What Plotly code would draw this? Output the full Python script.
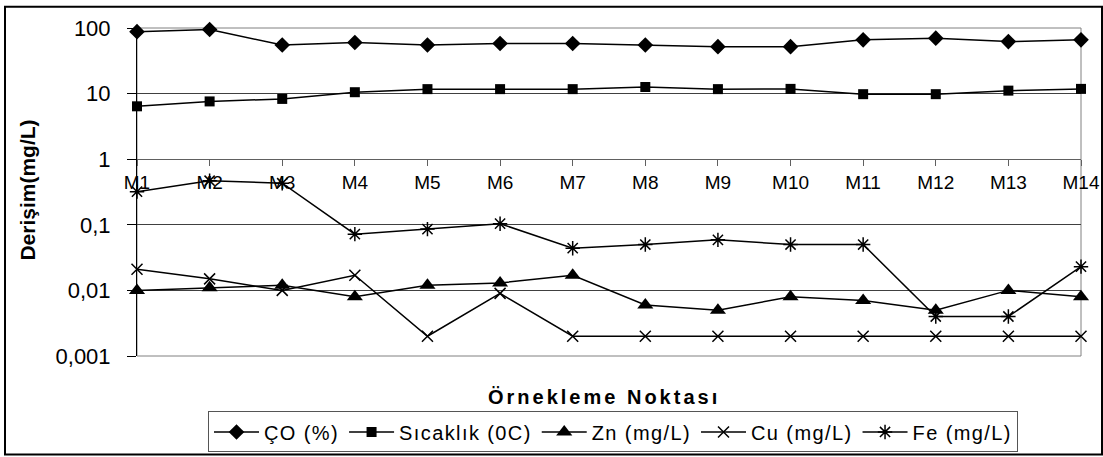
import plotly.graph_objects as go

# Sampling points and measured values
categories = ["M1", "M2", "M3", "M4", "M5", "M6", "M7",
              "M8", "M9", "M10", "M11", "M12", "M13", "M14"]
co_pct = [88, 95, 55, 60, 55, 58, 58, 55, 52, 52, 66, 70, 62, 66]
sicaklik = [6.4, 7.6, 8.3, 10.5, 11.7, 11.7, 11.7, 12.6, 11.7, 11.8, 9.8, 9.8, 11.1, 11.8]
zn = [0.010, 0.011, 0.012, 0.008, 0.012, 0.013, 0.017, 0.006, 0.005, 0.008, 0.007, 0.005, 0.010, 0.008]
cu = [0.021, 0.015, 0.010, 0.017, 0.002, 0.009, 0.002, 0.002, 0.002, 0.002, 0.002, 0.002, 0.002, 0.002]
fe = [0.32, 0.47, 0.43, 0.072, 0.086, 0.104, 0.044, 0.050, 0.059, 0.050, 0.050, 0.004, 0.004, 0.023]

y_ticks = [100, 10, 1, 0.1, 0.01, 0.001]
y_tick_text = ["100", "10", "1", "0,1", "0,01", "0,001"]

FONT = "Liberation Sans, Arial, sans-serif"
idx = list(range(len(categories)))


def spaced(label, px=1.4):
    return f'<span style="letter-spacing:{px}px">{label}</span>'


series = [
    ("ÇO (%)", co_pct, dict(symbol="diamond", size=12, color="black")),
    ("Sıcaklık (0C)", sicaklik, dict(symbol="square", size=10, color="black")),
    ("Zn (mg/L)", zn, dict(symbol="triangle-up", size=14, color="black")),
    ("Cu (mg/L)", cu, dict(symbol="x-thin-open", size=11, color="black",
                           line=dict(color="black", width=1.5))),
    ("Fe (mg/L)", fe, dict(symbol="asterisk-open", size=12, color="black",
                           line=dict(color="black", width=1.5))),
]

fig = go.Figure()
for name, vals, marker in series:
    fig.add_trace(go.Scatter(
        x=idx, y=vals, name=spaced(name), mode="lines+markers",
        line=dict(color="black", width=1.5),
        marker=marker, cliponaxis=False,
    ))

L, R, T, B = 137, 22, 28.3, 100.5
W, H = 1103, 457
pw, ph = W - L - R, H - T - B


def px_x(x):
    return (x - L) / pw


def px_y(y):
    return (H - B - y) / ph


fig.update_layout(
    width=W, height=H,
    margin=dict(l=L, r=R, t=T, b=B, pad=0, autoexpand=False),
    paper_bgcolor="white", plot_bgcolor="white",
    font=dict(family=FONT, color="black"),
    showlegend=True,
    legend=dict(
        orientation="h", xanchor="center", yanchor="top",
        x=px_x(613), y=px_y(412),
        bordercolor="#555555", borderwidth=1,
        font=dict(size=20, family=FONT, color="black"),
        itemwidth=45, tracegroupgap=0,
    ),
    xaxis=dict(
        range=[0, len(categories) - 1],
        tickmode="array", tickvals=idx, ticktext=categories,
        anchor="free", position=0.6,
        showgrid=False, zeroline=False,
        showline=True, linecolor="#606060", linewidth=1,
        ticks="outside", ticklen=6, tickcolor="#606060",
        tickfont=dict(size=19, family=FONT, color="black"),
    ),
    yaxis=dict(
        type="log", range=[-3, 2],
        tickmode="array", tickvals=y_ticks, ticktext=y_tick_text,
        showgrid=True, gridcolor="#404040", gridwidth=1,
        showline=True, linecolor="black", linewidth=1,
        ticks="outside", ticklen=9, tickcolor="black",
        ticklabelstandoff=12,
        tickfont=dict(size=22, family=FONT, color="black"),
        zeroline=False,
    ),
    shapes=[
        # plot-area frame
        dict(type="rect", xref="paper", yref="paper", x0=0, x1=1, y0=0, y1=1,
             line=dict(color="#808080", width=1), layer="below"),
        # outer chart frame
        dict(type="rect", xref="paper", yref="paper",
             x0=px_x(5), x1=px_x(1102), y0=px_y(455), y1=px_y(7),
             line=dict(color="black", width=2)),
    ],
    annotations=[
        dict(text="<b>Derişim(mg/L)</b>", xref="paper", yref="paper",
             x=px_x(28), y=px_y(191), textangle=-90, showarrow=False,
             xanchor="center", yanchor="middle",
             font=dict(size=21, family=FONT, color="black")),
        dict(text='<b><span style="letter-spacing:3px">Örnekleme Noktası</span></b>',
             xref="paper", yref="paper", x=px_x(604), y=px_y(398),
             showarrow=False, xanchor="center", yanchor="middle",
             font=dict(size=20, family=FONT, color="black")),
    ],
)

fig.write_html("out.html")
